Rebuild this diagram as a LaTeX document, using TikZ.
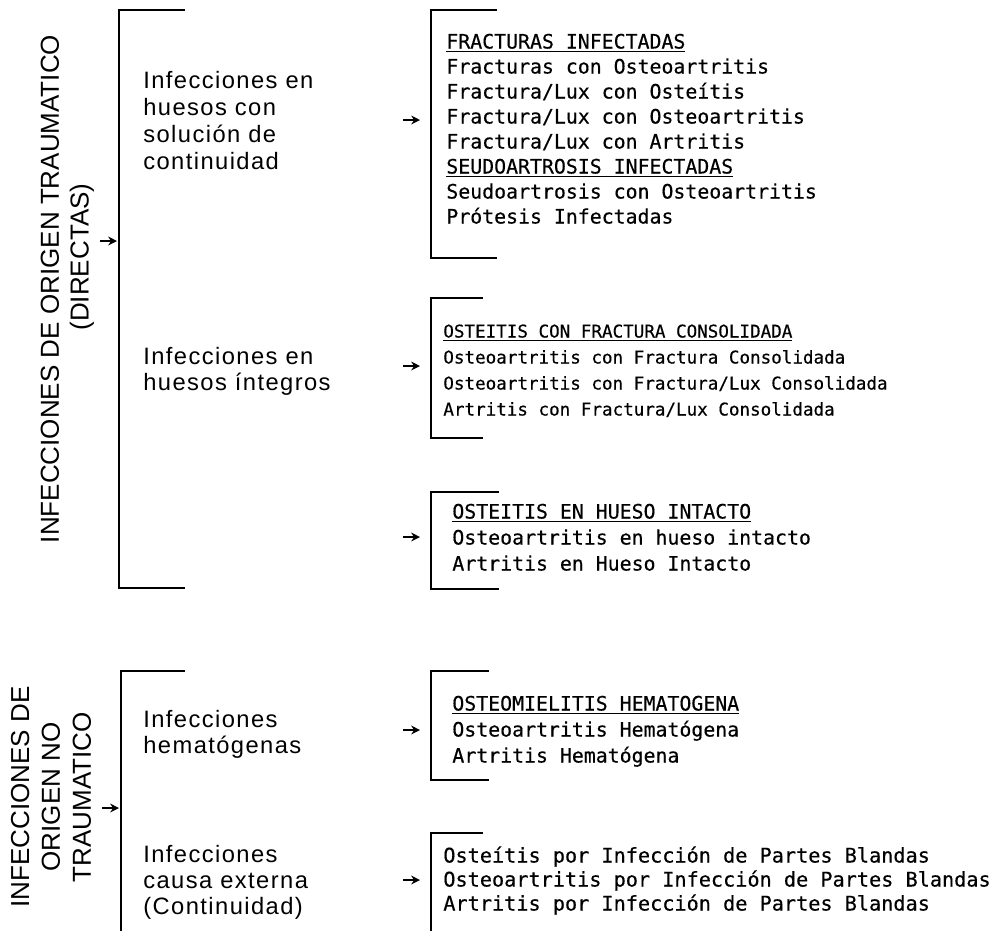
\documentclass[tikz,border=0pt]{standalone}
\usepackage{fontspec}
\setmainfont{Liberation Sans}
\newfontfamily\grupoletra[LetterSpace=6]{Liberation Sans}
\newfontfamily\listaletra[FakeBold=0.4]{DejaVu Sans Mono}
\usetikzlibrary{arrows.meta}

\begin{document}
\begin{tikzpicture}[x=0.02cm, y=-0.02cm,
  llave/.style = {line width=1.3pt},
  flecha/.style = {line width=1pt, -{Stealth[length=5pt,width=5pt]}},
  titulo/.style = {rotate=90, align=center, inner sep=0pt,
     font=\fontsize{14.8}{17.6}\selectfont},
  grupo/.style = {anchor=base west, inner sep=0pt,
     font=\grupoletra\fontsize{13.5}{15.3}\selectfont},
  lista/.style = {anchor=base west, inner sep=0pt,
     font=\listaletra\fontsize{10}{14}\selectfont},
  listaancha/.style = {lista, font=\listaletra\fontsize{11.3}{14}\selectfont}]

\fill[white] (0,0) rectangle (996,931);
\useasboundingbox (0,0) rectangle (996,931);

% titulos girados
\node[titulo] (trau) at (50,289) {INFECCIONES DE ORIGEN TRAUMATICO};
\node[titulo] (dir) at (82,257) {(DIRECTAS)};
\node[titulo] (notrau) at (51,797) {INFECCIONES DE\\ORIGEN NO\\TRAUMATICO};

% llaves
\foreach \x/\a/\b/\l in {119/10/588/66, 431/10/258/66, 431/298/438/52, 431/492/589/68, 431/671/780/58} {
    \draw[llave] (\x+\l,\a) -- (\x,\a) -- (\x,\b) -- (\x+\l,\b);
  }
\draw[llave] (185,671) -- (121,671) -- (121,931);
\draw[llave] (483,833) -- (431,833) -- (431,931);

% flechas
\foreach \n/\xa/\xb/\y in {g1/100/117/241, g2/102/119/808, 1/403/420/120, 2/403/420/366, 3/403/420/537, 4/403/420/730, 5/403/420/880} {
    \coordinate (fa\n) at (\xa,\y);
    \coordinate (fb\n) at (\xb,\y);
    \draw[flecha] (fa\n) -- (fb\n);
  }

% grupos
\foreach \t [count=\i from 0] in {Infecciones en, huesos con, solución de, continuidad}
    \node[grupo] (m1-\i) at (143,88+27*\i) {\t};
\foreach \t [count=\i from 0] in {Infecciones en, huesos íntegros}
    \node[grupo] (m2-\i) at (143,364+26*\i) {\t};
\foreach \t [count=\i from 0] in {Infecciones, hematógenas}
    \node[grupo] (m3-\i) at (143,727+26*\i) {\t};
\foreach \t [count=\i from 0] in {Infecciones, causa externa, {(Continuidad)}}
    \node[grupo] (m4-\i) at (143,862+26*\i) {\t};

% listas
\foreach \t [count=\i from 0] in {\underline{FRACTURAS INFECTADAS}, Fracturas con Osteoartritis,
    Fractura/Lux con Osteítis, Fractura/Lux con Osteoartritis, Fractura/Lux con Artritis,
    \underline{SEUDOARTROSIS INFECTADAS}, Seudoartrosis con Osteoartritis, Prótesis Infectadas}
    \node[listaancha] (t1-\i) at (446,48.5+25*\i) {\t};
\foreach \t [count=\i from 0] in {\underline{OSTEITIS CON FRACTURA CONSOLIDADA},
    Osteoartritis con Fractura Consolidada, Osteoartritis con Fractura/Lux Consolidada,
    Artritis con Fractura/Lux Consolidada}
    \node[lista] (t2-\i) at (443,337.5+26*\i) {\t};
\foreach \t [count=\i from 0] in {\underline{OSTEITIS EN HUESO INTACTO},
    Osteoartritis en hueso intacto, Artritis en Hueso Intacto}
    \node[listaancha] (t3-\i) at (452,518.5+26*\i) {\t};
\foreach \t [count=\i from 0] in {\underline{OSTEOMIELITIS HEMATOGENA},
    Osteoartritis Hematógena, Artritis Hematógena}
    \node[listaancha] (t4-\i) at (452,710.5+26*\i) {\t};
\foreach \t [count=\i from 0] in {Osteítis por Infección de Partes Blandas,
    Osteoartritis por Infección de Partes Blandas, Artritis por Infección de Partes Blandas}
    \node[listaancha, font=\listaletra\fontsize{11.5}{14}\selectfont] (t5-\i) at (443,862.5+24*\i) {\t};

\end{tikzpicture}
\end{document}
